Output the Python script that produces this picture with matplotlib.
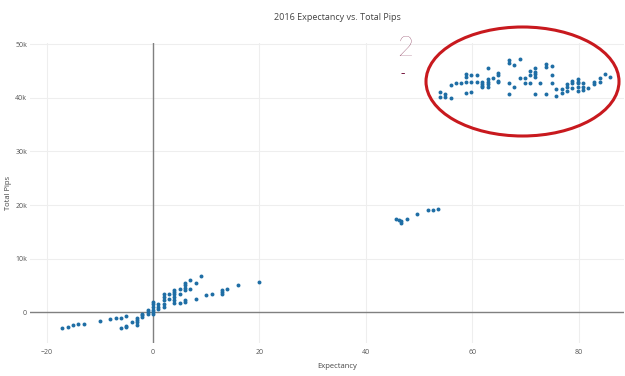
import matplotlib
matplotlib.use("Agg")
import matplotlib.pyplot as plt
from matplotlib.patches import Ellipse

plt.rcParams['font.family'] = ['Open Sans', 'DejaVu Sans']

title = "2016 Expectancy vs. Total Pips"
x_label = "Expectancy"
y_label = "Total Pips"
x_ticks = [-20, 0, 20, 40, 60, 80]
x_tick_labels = ["−20", "0", "20", "40", "60", "80"]
y_ticks = [0, 10000, 20000, 30000, 40000, 50000]
y_tick_labels = ["0", "10k", "20k", "30k", "40k", "50k"]

# low cluster
low_x = [-17, -16, -15, -14.1, -13, -10, -8, -7, -6, -5, -6, -5, -5, -4, -3, -3, -3, -3,
         -2, -2, -2, -1, -1, -1, 0, 0, 0, 0, 0, 0, 1, 1, 1, 2, 2, 2, 2, 2, 3, 3,
         4, 4, 4, 4, 4, 4, 5, 5, 5, 6, 6, 6, 6, 6, 6, 7, 7, 8, 8, 9, 10, 11,
         13, 13, 13, 14, 16, 20]
low_y = [-2930, -2670, -2430, -2240, -2110, -1620, -1310, -1120, -990, -750, -2990, -2490, -2740,
         -1870, -990, -1360, -1870, -2300, -250, -560, -880, 370, 60, -250,
         1920, 1490, 990, 500, 60, -250, 990, 1620, 690, 3490, 2860, 2240, 1620, 990,
         3490, 2560, 4240, 3790, 3360, 2860, 2370, 1740, 4420, 3490, 1740,
         5470, 5040, 4610, 4240, 2370, 1920, 6100, 4420, 5540, 2560, 6780, 3170, 3420,
         4240, 3790, 3360, 4290, 5040, 5600]

# middle cluster
mid_x = [45.7, 46.2, 46.6, 46.6, 47.7, 49.7, 51.6, 52.6, 53.5]
mid_y = [17350, 17170, 17040, 16740, 17350, 18420, 19090, 19160, 19220]

# high cluster
high_x = [53.9, 53.9, 54.8, 54.8, 56.0, 56.0, 56.9, 57.8, 58.8, 58.8, 58.8, 58.8,
          59.8, 59.8, 59.8, 60.9, 60.9, 61.8, 61.8, 61.8, 61.8,
          62.9, 62.9, 62.9, 62.9, 62.9, 63.9, 64.8, 64.8, 64.8, 64.8,
          66.8, 66.8, 66.8, 66.8, 67.9, 67.9, 68.9, 68.9, 69.9, 69.9,
          70.9, 70.9, 70.9, 71.8, 71.8, 71.8, 71.8, 71.8, 72.8,
          73.8, 73.8, 73.8, 74.9, 74.9, 74.9, 75.8, 75.8, 76.8, 76.8,
          77.7, 77.7, 77.7, 78.8, 78.8, 78.8, 79.9, 79.9, 79.9, 79.9, 79.9,
          80.8, 80.8, 80.8, 81.8, 82.8, 82.8, 83.9, 83.9, 84.9, 85.8]
high_y = [41050, 40120, 40680, 40180, 39930, 42360, 42670, 42670, 44410, 43910, 42870, 40810,
          44220, 42870, 41050, 44220, 42980, 42980, 42550, 42170, 41930,
          45480, 43420, 42980, 42550, 42050, 43610, 44660, 44220, 43160, 42980,
          47020, 46520, 42670, 40680, 46090, 42050, 47150, 43720, 43720, 42670,
          45030, 44220, 42670, 45480, 44840, 44350, 43910, 40620, 42670,
          46210, 45660, 40620, 45900, 44220, 42670, 41550, 40310, 41550, 40810,
          42550, 41930, 41300, 43160, 42670, 41740, 43420, 42980, 42670, 42050, 41300,
          42800, 42050, 41430, 41740, 42980, 42550, 43610, 42980, 44410, 43910]

xs = low_x + mid_x + high_x
ys = low_y + mid_y + high_y

W, H = 625, 376
fig = plt.figure(figsize=(W / 100, H / 100), dpi=100)
ax = fig.add_axes([30 / W, 1 - 343 / H, (624 - 30) / W, (343 - 43) / H])

ax.set_xlim(-23.1, 88.5)
ax.set_ylim(-5700, 50200)

ax.scatter(xs, ys, s=8, color='#1f6ea5', linewidths=0, zorder=4)

ax.set_xticks(x_ticks)
ax.set_xticklabels(x_tick_labels)
ax.set_yticks(y_ticks)
ax.set_yticklabels(y_tick_labels)
ax.tick_params(axis='x', length=0, labelsize=5, colors='#555555', pad=4)
ax.tick_params(axis='y', length=0, labelsize=5, colors='#555555', pad=2)
ax.set_axisbelow(True)
ax.grid(True, color='#eeeeee', linewidth=0.8)
ax.axhline(0, color='#808080', linewidth=1.0, zorder=3)
ax.axvline(0, color='#808080', linewidth=1.0, zorder=3)
for s in ax.spines.values():
    s.set_visible(False)

fig.text(337 / W, 1 - 18 / H, title, ha='center', va='center', fontsize=6.5, color='#444444')
fig.text(337 / W, 1 - 366 / H, x_label, ha='center', va='center', fontsize=5.5, color='#444444')
fig.text(9 / W, 1 - 193 / H, y_label, ha='center', va='center', rotation=90, fontsize=5.5, color='#444444')

# red hand-drawn annotation
ell = Ellipse((522.5 / W, 1 - 81.5 / H), 193 / W, 109 / H, transform=fig.transFigure,
              fill=False, edgecolor='#c8191e', linewidth=2.2, zorder=5)
fig.add_artist(ell)
fig.text(405 / W, 1 - 48 / H, "2", ha='center', va='center', fontsize=20,
         color='#7a1f45', family='Lato', fontweight='light')
fig.text(403 / W, 1 - 73 / H, "-", ha='center', va='center', fontsize=10, color='#7a1f45')

fig.savefig("out.png", dpi=100)
